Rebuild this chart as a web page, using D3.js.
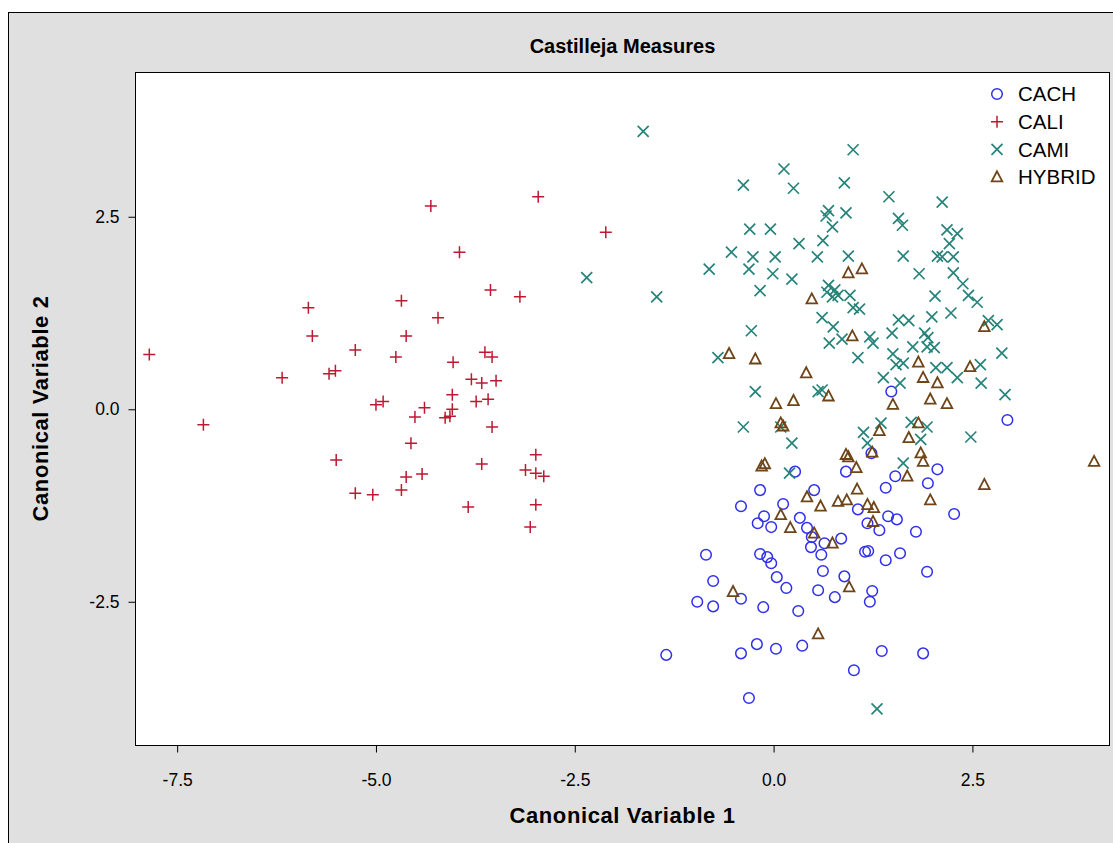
<!DOCTYPE html>
<html>
<head>
<meta charset="utf-8">
<script src="https://cdn.jsdelivr.net/npm/d3@7"></script>
<style>
    body { margin: 0; background: #fff; }
    text { font-family: Arial, "Liberation Sans", sans-serif; }
</style>
</head>
<body>
<div id="chart"></div>
<script>
// groups in drawing order
const groups = ["CACH", "CALI", "CAMI", "HYBRID"];

// [canonical 1, canonical 2] per group
const cach = [[1.48,0.23],[2.94,-0.14],[0.27,-0.81],[1.23,-0.57],[0.91,-0.81],[-0.17,-1.05],[0.51,-1.05],[1.06,-1.30],
    [-0.41,-1.26],[0.12,-1.23],[-0.12,-1.39],[-0.20,-1.48],[-0.03,-1.53],[0.33,-1.41],[0.42,-1.54],[0.48,-1.66],
    [0.47,-1.79],[0.64,-1.74],[0.85,-1.68],[1.18,-1.48],[0.60,-1.89],[-0.85,-1.89],[-0.17,-1.88],[-0.08,-1.92],
    [1.15,-1.85],[2.06,-0.78],[1.53,-0.87],[1.94,-0.96],[1.41,-1.02],[1.44,-1.39],[1.55,-1.43],[1.33,-1.57],
    [1.79,-1.59],[2.27,-1.36],[1.19,-1.84],[1.59,-1.87],[1.41,-1.96],[-0.03,-2.00],[-0.76,-2.23],[0.62,-2.10],
    [0.04,-2.18],[0.16,-2.32],[0.89,-2.17],[0.56,-2.35],[0.77,-2.44],[-0.96,-2.50],[-0.76,-2.56],[-0.41,-2.46],
    [-0.13,-2.57],[0.31,-2.62],[-0.21,-3.05],[-0.41,-3.17],[0.03,-3.11],[0.36,-3.07],[-1.35,-3.19],[1.01,-3.39],
    [-0.31,-3.75],[1.93,-2.11],[1.24,-2.36],[1.21,-2.50],[1.36,-3.14],[1.88,-3.17]];

const cali = [[-7.85,0.71],[-7.17,-0.20],[-6.18,0.41],[-5.85,1.32],[-5.80,0.95],[-5.59,0.46],[-5.51,0.50],[-5.26,0.77],
    [-5.50,-0.66],[-5.26,-1.09],[-5.04,-1.11],[-5.00,0.06],[-4.91,0.10],[-4.75,0.68],[-4.68,1.41],[-4.62,0.95],
    [-4.56,-0.44],[-4.62,-0.88],[-4.68,-1.05],[-4.51,-0.10],[-4.39,0.02],[-4.42,-0.84],[-4.31,2.64],[-4.22,1.19],
    [-4.13,-0.11],[-4.07,-0.09],[-4.04,0.00],[-4.04,0.19],[-4.03,0.61],[-3.95,2.04],[-3.84,-1.27],[-3.80,0.39],
    [-3.74,0.10],[-3.67,0.34],[-3.67,-0.71],[-3.63,0.74],[-3.59,0.13],[-3.56,1.55],[-3.54,0.68],[-3.54,-0.23],
    [-3.49,0.37],[-3.19,1.46],[-3.12,-0.79],[-2.99,-0.59],[-2.99,-0.83],[-2.89,-0.87],[-2.99,-1.24],[-3.06,-1.53],
    [-2.96,2.76],[-2.11,2.30]];

const cami = [[-1.64,3.61],[1.00,3.37],[0.13,3.12],[-0.38,2.91],[0.25,2.87],[0.89,2.94],[0.69,2.58],[0.66,2.51],
    [0.91,2.55],[0.74,2.37],[-0.30,2.34],[-0.04,2.34],[0.32,2.15],[0.62,2.19],[-0.53,2.04],[-0.26,1.98],
    [0.02,1.98],[0.55,1.98],[0.94,1.99],[1.45,2.76],[2.12,2.69],[1.57,2.48],[1.62,2.39],[2.18,2.33],
    [2.31,2.28],[2.21,2.15],[1.63,1.99],[2.06,1.99],[2.12,1.98],[2.26,1.98],[-2.35,1.71],[-0.81,1.82],
    [-0.31,1.82],[-0.01,1.76],[0.23,1.69],[-0.17,1.54],[-1.47,1.46],[0.69,1.61],[0.67,1.52],[0.77,1.55],
    [0.81,1.48],[0.74,1.46],[0.96,1.48],[1.00,1.32],[1.08,1.30],[0.61,1.19],[0.75,1.07],[0.70,0.86],
    [0.86,0.91],[1.21,0.94],[1.06,0.67],[-0.28,1.02],[-0.70,0.67],[-0.23,0.23],[0.56,0.23],[0.61,0.25],
    [1.83,1.76],[2.26,1.77],[2.38,1.63],[2.03,1.47],[2.45,1.48],[2.56,1.39],[1.57,1.16],[1.70,1.15],
    [1.99,1.20],[2.23,1.25],[2.70,1.15],[2.81,1.10],[1.49,0.99],[1.25,0.86],[1.90,0.99],[1.94,0.93],
    [1.75,0.81],[1.93,0.81],[2.02,0.80],[1.50,0.72],[1.54,0.58],[1.63,0.60],[2.87,0.73],[2.04,0.54],
    [2.18,0.54],[2.31,0.41],[2.60,0.58],[1.38,0.41],[1.59,0.34],[2.61,0.34],[2.91,0.19],[-0.38,-0.23],
    [0.09,-0.23],[0.23,-0.44],[1.13,-0.30],[1.18,-0.44],[0.20,-0.83],[1.35,-0.18],[1.73,-0.17],[1.93,-0.23],
    [1.85,-0.39],[2.48,-0.36],[1.63,-0.70],[1.30,-3.89]];

const hybrid = [[0.94,1.77],[1.11,1.82],[0.48,1.43],[0.99,0.95],[-0.56,0.72],[-0.23,0.65],[0.41,0.47],[0.69,0.17],
    [0.03,0.07],[0.25,0.11],[2.65,1.07],[1.82,0.61],[2.47,0.55],[1.88,0.41],[2.06,0.34],[1.97,0.13],
    [2.18,0.07],[1.50,0.06],[0.09,-0.18],[0.12,-0.22],[-0.15,-0.74],[-0.11,-0.71],[0.91,-0.59],[0.94,-0.62],
    [1.04,-0.76],[1.05,-1.04],[0.42,-1.14],[0.59,-1.26],[0.81,-1.20],[0.92,-1.18],[1.18,-1.24],[0.09,-1.37],
    [0.21,-1.54],[0.51,-1.61],[0.74,-1.74],[1.33,-0.28],[1.82,-0.18],[1.70,-0.37],[1.24,-0.56],[1.85,-0.57],
    [1.88,-0.68],[1.68,-0.87],[2.65,-0.98],[1.97,-1.18],[1.26,-1.28],[1.25,-1.46],[4.03,-0.68],[0.95,-2.31],
    [-0.51,-2.37],[0.56,-2.92]];

const xTicks = [-7.5, -5.0, -2.5, 0.0, 2.5];
const yTicks = [-2.5, 0.0, 2.5];
const xDomain = [-8.03, 4.23];
const yDomain = [-4.36, 4.38];

const seriesData = {CACH: cach, CALI: cali, CAMI: cami, HYBRID: hybrid};

// marker look per group
const markerStyle = {
    CACH:   {shape: "circle",   color: "#3030ec", width: 1.5},
    CALI:   {shape: "plus",     color: "#bc1a32", width: 1.5},
    CAMI:   {shape: "x",        color: "#26837a", width: 1.7},
    HYBRID: {shape: "triangle", color: "#6e4519", width: 1.8}
};

const shapePath = {
    circle: "M5.3,0A5.3,5.3 0 1,1 -5.3,0A5.3,5.3 0 1,1 5.3,0Z",
    plus: "M-6,0H6M0,-6V6",
    x: "M-5.5,-5.5L5.5,5.5M-5.5,5.5L5.5,-5.5",
    triangle: "M0,-5.8L5.3,4.3L-5.3,4.3Z"
};

const W = 1113, H = 843;
const margin = {top: 72, right: 3, bottom: 98, left: 135};
const width = W - margin.left - margin.right;
const height = H - margin.top - margin.bottom;

const svg = d3.select("#chart")
    .append("svg")
    .attr("width", W)
    .attr("height", H);

// grey frame
svg.append("rect")
    .attr("x", 8.5).attr("y", 12.5)
    .attr("width", W).attr("height", H)
    .attr("fill", "#e0e0e0")
    .attr("stroke", "#000")
    .attr("stroke-width", 1);

const g = svg.append("g")
    .attr("transform", "translate(" + margin.left + "," + margin.top + ")");

g.append("rect")
    .attr("x", 0.5).attr("y", 0.5)
    .attr("width", width - 1).attr("height", height)
    .attr("fill", "#fff")
    .attr("stroke", "#000")
    .attr("stroke-width", 1);

const x = d3.scaleLinear().domain(xDomain).range([0, width]);
const y = d3.scaleLinear().domain(yDomain).range([height, 0]);

const xAxis = d3.axisBottom(x)
    .tickValues(xTicks)
    .tickFormat(d => d.toFixed(1))
    .tickSize(7)
    .tickSizeOuter(0);

const yAxis = d3.axisLeft(y)
    .tickValues(yTicks)
    .tickFormat(d => d.toFixed(1))
    .tickSize(7)
    .tickSizeOuter(0);

const gx = g.append("g")
    .attr("transform", "translate(0," + (height + 0.5) + ")")
    .call(xAxis);
gx.select(".domain").remove();
gx.selectAll("line").attr("stroke", "#000");
gx.selectAll("text")
    .attr("y", 28)
    .attr("font-size", "17.5px")
    .attr("font-family", "Arial, 'Liberation Sans', sans-serif")
    .attr("fill", "#000");

const gy = g.append("g")
    .attr("transform", "translate(0.5,0)")
    .call(yAxis);
gy.select(".domain").remove();
gy.selectAll("line").attr("stroke", "#000");
gy.selectAll("text")
    .attr("x", -16)
    .attr("font-size", "17.5px")
    .attr("font-family", "Arial, 'Liberation Sans', sans-serif")
    .attr("fill", "#000");

// points
groups.forEach(name => {
    const st = markerStyle[name];
    g.append("g")
        .attr("class", "series-" + name)
        .selectAll("path")
        .data(seriesData[name])
        .enter()
        .append("path")
        .attr("transform", d => "translate(" + x(d[0]) + "," + y(d[1]) + ")")
        .attr("d", shapePath[st.shape])
        .attr("fill", "none")
        .attr("stroke", st.color)
        .attr("stroke-width", st.width);
});

// legend
const legend = g.append("g")
    .attr("transform", "translate(862,22)");
const rows = legend.selectAll("g")
    .data(groups)
    .enter()
    .append("g")
    .attr("transform", (d, i) => "translate(0," + (i * 27.7) + ")");
rows.append("path")
    .attr("d", d => shapePath[markerStyle[d].shape])
    .attr("fill", "none")
    .attr("stroke", d => markerStyle[d].color)
    .attr("stroke-width", d => markerStyle[d].width);
rows.append("text")
    .attr("x", 21)
    .attr("dy", "0.36em")
    .attr("font-size", "20.5px")
    .attr("fill", "#000")
    .text(d => d);

// titles
svg.append("text")
    .attr("x", margin.left + width / 2)
    .attr("y", 53)
    .attr("text-anchor", "middle")
    .attr("font-size", "20px")
    .attr("font-weight", "bold")
    .text("Castilleja Measures");

svg.append("text")
    .attr("x", margin.left + width / 2)
    .attr("y", 823)
    .attr("text-anchor", "middle")
    .attr("font-size", "22px")
    .attr("font-weight", "bold")
    .attr("letter-spacing", "0.6px")
    .text("Canonical Variable 1");

svg.append("text")
    .attr("transform", "translate(48," + (margin.top + height / 2) + ") rotate(-90)")
    .attr("text-anchor", "middle")
    .attr("font-size", "22px")
    .attr("font-weight", "bold")
    .attr("letter-spacing", "0.6px")
    .text("Canonical Variable 2");
</script>
</body>
</html>
